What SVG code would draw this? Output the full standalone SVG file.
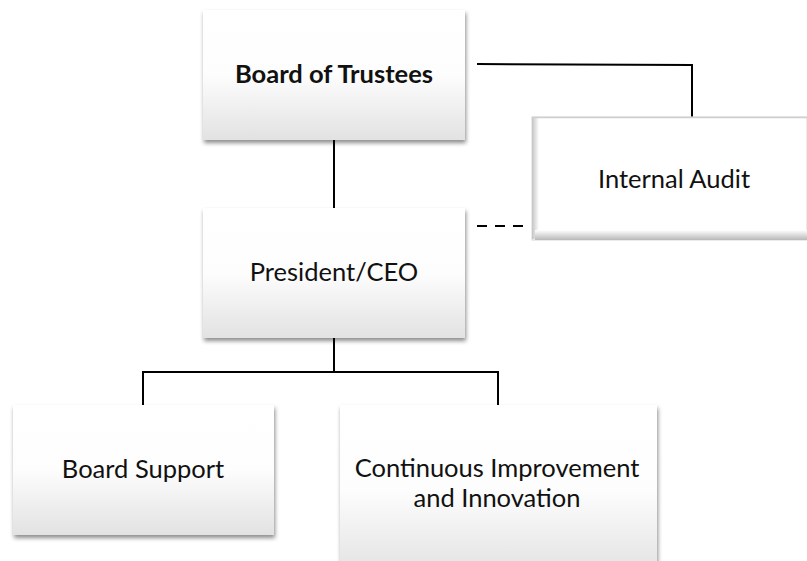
<svg xmlns="http://www.w3.org/2000/svg" width="807" height="561" viewBox="0 0 807 561">
  <style>
    .box { fill: url(#boxFill); filter: url(#drop); }
    .lbl { font-family: Lato, "Liberation Sans", sans-serif; font-size: 25.5px; fill: #111; text-anchor: middle; }
    .bold { font-weight: bold; }
    .link { fill: none; stroke: #000; stroke-width: 2; }
    .dash { stroke-dasharray: 10 8; }
  </style>
  <defs>
    <linearGradient id="boxFill" x1="0" y1="0" x2="0" y2="1">
      <stop offset="0" stop-color="#ffffff"/>
      <stop offset="0.5" stop-color="#fdfdfd"/>
      <stop offset="1" stop-color="#e2e2e2"/>
    </linearGradient>
    <linearGradient id="bevelLeft" x1="0" y1="0" x2="1" y2="0">
      <stop offset="0" stop-color="#c4c4c4"/>
      <stop offset="1" stop-color="#ffffff"/>
    </linearGradient>
    <linearGradient id="bevelBottom" x1="0" y1="0" x2="0" y2="1">
      <stop offset="0" stop-color="#ffffff"/>
      <stop offset="1" stop-color="#b8b8b8"/>
    </linearGradient>
    <filter id="drop" x="-10%" y="-10%" width="120%" height="130%">
      <feGaussianBlur in="SourceAlpha" stdDeviation="2.2"/>
      <feOffset dx="1" dy="3" result="b"/>
      <feFlood flood-color="#000" flood-opacity="0.45"/>
      <feComposite in2="b" operator="in"/>
      <feMerge>
        <feMergeNode/>
        <feMergeNode in="SourceGraphic"/>
      </feMerge>
    </filter>
  </defs>

  <rect width="807" height="561" fill="#ffffff"/>

  <!-- connectors -->
  <g id="connectors">
    <path class="link" d="M334 140 V208"/>
    <path class="link" d="M477 64 L692 65 V117"/>
    <path class="link dash" d="M477 226 H530"/>
    <path class="link" d="M334 338 V372"/>
    <path class="link" d="M143 405 V372 H498 V405"/>
  </g>

  <g id="board-of-trustees">
    <rect class="box" x="203" y="10" width="262" height="130"/>
    <text class="lbl bold" x="334" y="83">Board of Trustees</text>
  </g>

  <g id="internal-audit">
    <rect x="532" y="117" width="275" height="123" fill="#ffffff" stroke="#d6d6d6" stroke-width="1"/>
    <rect x="532" y="118" width="7" height="121" fill="url(#bevelLeft)"/>
    <rect x="535" y="230" width="272" height="10" fill="url(#bevelBottom)"/>
    <path d="M532 117.5 H807" stroke="#cfcfcf" stroke-width="1.5"/>
    <text class="lbl" x="674" y="188">Internal Audit</text>
  </g>

  <g id="president-ceo">
    <rect class="box" x="203" y="208" width="262" height="130"/>
    <text class="lbl" x="334" y="281">President/CEO</text>
  </g>

  <g id="board-support">
    <rect class="box" x="13" y="405" width="261" height="130"/>
    <text class="lbl" x="143" y="478">Board Support</text>
  </g>

  <g id="continuous-improvement">
    <rect class="box" x="340" y="405" width="317" height="170"/>
    <text class="lbl" x="497" y="477">Continuous Improvement</text>
    <text class="lbl" x="497" y="507">and Innovation</text>
  </g>
</svg>
